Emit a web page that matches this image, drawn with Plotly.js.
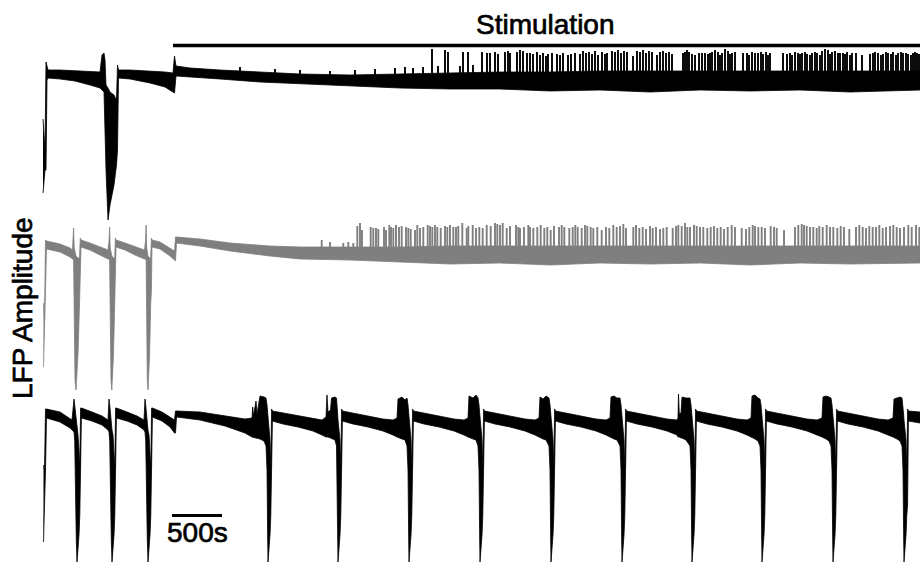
<!DOCTYPE html>
<html>
<head>
<meta charset="utf-8">
<script src="https://cdn.plot.ly/plotly-3.0.1.min.js"></script>
<style>
  html, body { margin: 0; padding: 0; background: #fff; }
  #chart { width: 920px; height: 563px; }
  #chart .annotation-text { stroke: #000; stroke-width: 0.7px; }
</style>
</head>
<body>
<div id="chart"></div>
<script>
// Time in seconds, LFP amplitude in mV. Each channel is drawn as its
// amplitude envelope (upper / lower bound) plus the isolated spikes.

// ---- Channel 1 (black, top) ----
const t1 = [0, 10, 20, 30, 40, 50, 170, 320, 470, 570,
  590, 610, 620, 630, 650, 670, 710, 735, 745, 755,
  870, 1070, 1220, 1300, 1315, 1330,
  1470, 1770, 2170, 2570, 3070, 3570, 4070, 4570, 5070, 5570,
  6070, 6570, 7070, 7570, 8070, 8770];
const hi1 = [-3.9, -6.0, -7.0, 1.8, 1.2, 1.0, 1.0, 0.9, 0.8, 0.8,
  2.5, 2.7, 2.0, -0.5, -0.8, -1.2, -1.5, -2.0, 1.5, 1.0,
  1.0, 0.9, 0.8, 0.7, 2.4, 1.4,
  1.2, 1.0, 0.8, 0.6, 0.5, 0.6, 0.7, 0.8, 0.8, 0.9,
  0.9, 0.9, 0.9, 0.9, 0.9, 0.9];
const lo1 = [-11.3, -10.5, -9.0, -9.0, 0.0, 0.2, 0.1, -0.1, -0.5, -0.8,
  -1.0, -1.2, -3.0, -9.0, -14.0, -12.5, -10.5, -8.5, -7.0, 0.2,
  0.1, -0.3, -0.7, -1.2, -1.3, 0.4,
  0.3, 0.1, -0.2, -0.4, -0.6, -0.8, -0.9, -0.9, -1.1, -1.0,
  -1.2, -1.0, -1.1, -1.0, -1.2, -1.0];

const spikeT1 = [
  1970, 2320, 2570, 2870, 3120, 3320, 3520, 3620, 3700, 3800,
  3890, 3950, 4020, 4050, 4170, 4200, 4250, 4300, 4390, 4440,
  4470, 4520, 4550, 4620, 4650, 4670, 4740, 4770, 4800, 4840,
  4870, 4900, 4940, 4970, 5000, 5030, 5050, 5090, 5140, 5170,
  5200, 5250, 5280, 5320, 5370, 5400, 5430, 5460, 5490, 5520,
  5550, 5590, 5620, 5640, 5690, 5720, 5750, 5780, 5810, 5840,
  5900, 5940, 5970, 6000, 6030, 6060, 6090, 6140, 6170, 6200,
  6230, 6260, 6290, 6400, 6420, 6440, 6460, 6490, 6520, 6560,
  6590, 6620, 6650, 6670, 6690, 6720, 6750, 6770, 6790, 6820,
  6850, 6870, 6890, 6920, 7000, 7040, 7060, 7090, 7120, 7150,
  7180, 7200, 7230, 7250, 7270, 7400, 7440, 7470, 7490, 7520,
  7550, 7570, 7590, 7620, 7640, 7670, 7690, 7720, 7740, 7770,
  7790, 7820, 7850, 7870, 7890, 7920, 7950, 7970, 8000, 8020,
  8040, 8070, 8090, 8130, 8190, 8270, 8300, 8320, 8350, 8380,
  8400, 8430, 8450, 8480, 8500, 8530, 8550, 8580, 8600, 8630,
  8650, 8680, 8700, 8720, 8740, 8760];
const spikeAmp1 = [
  1.3, 1.1, 1.0, 0.9, 1.0, 1.1, 1.2, 1.3, 1.2, 1.3,
  3.1, 1.4, 3.0, 2.8, 1.4, 2.8, 2.8, 1.5, 2.8, 2.7,
  2.7, 2.8, 2.6, 2.8, 2.9, 2.7, 2.8, 3.0, 2.9, 2.7,
  2.7, 2.6, 2.8, 2.5, 2.7, 2.4, 2.6, 2.7, 2.6, 2.5,
  2.7, 2.5, 2.6, 2.7, 2.6, 2.9, 2.7, 2.8, 2.6, 2.9,
  2.5, 2.8, 2.6, 2.7, 2.9, 2.8, 3.0, 2.7, 2.9, 2.8,
  2.4, 2.9, 2.8, 3.0, 2.7, 2.9, 2.8, 2.5, 2.8, 2.9,
  2.7, 2.8, 2.6, 2.7, 2.8, 3.0, 2.8, 2.6, 2.5, 2.7,
  2.7, 2.7, 2.6, 2.7, 2.8, 3.0, 2.8, 2.5, 2.7, 3.1,
  2.9, 2.6, 2.7, 2.8, 2.7, 2.7, 2.5, 2.8, 2.7, 2.7,
  2.8, 2.6, 2.8, 2.5, 2.7, 2.7, 2.6, 2.7, 2.5, 2.8,
  2.7, 2.6, 2.7, 2.8, 2.6, 2.5, 2.7, 2.8, 2.7, 2.5,
  2.9, 3.1, 3.0, 2.6, 2.8, 2.9, 2.7, 2.7, 2.7, 2.6,
  2.8, 2.5, 2.7, 2.7, 2.5, 2.6, 2.7, 2.8, 2.7, 2.5,
  2.6, 2.8, 2.7, 2.6, 2.8, 2.5, 2.7, 2.8, 2.7, 2.7,
  2.6, 2.5, 2.7, 2.8, 2.7, 2.6];

// ---- Channel 2 (grey, middle) ----
const t2 = [5, 15, 25, 35, 170, 270, 295,
  300, 306, 312, 320, 330, 350, 365, 373, 380, 470, 570, 650,
  660, 666, 672, 680, 688, 705, 717, 724, 730, 820, 920, 1015,
  1025, 1031, 1037, 1043, 1050, 1066, 1077, 1084, 1090, 1170, 1270, 1315,
  1325, 1335, 1570, 1870, 2270, 2570, 3070, 3570, 4070, 4570, 5070, 5570, 6070, 6570, 7070, 7570, 8070, 8770];
const hi2 = [-5.1, -6.8, 1.2, 1.1, 0.8, 0.4, 0.2,
  1.2, 2.4, 0.4, -0.2, -0.4, -0.6, -0.6, 1.4, 1.2, 0.9, 0.5, 0.2,
  1.1, 2.5, 0.4, -0.2, -0.4, -0.6, -0.6, 1.4, 1.2, 0.9, 0.5, 0.2,
  1.1, 2.7, 0.4, -0.2, -0.4, -0.6, -0.6, 1.4, 1.2, 1.0, 0.4, 0.1,
  1.5, 1.5, 1.3, 0.9, 0.6, 0.5, 0.5, 0.5, 0.6, 0.6, 0.6, 0.6, 0.6, 0.6, 0.6, 0.6, 0.6, 0.6];
const lo2 = [-11.5, -9.8, -4.8, 0.3, 0.0, -0.5, -0.7,
  -0.7, -0.8, -1.0, -12.8, -13.8, -10.2, -5.2, -3.8, 0.5, 0.2, -0.3, -0.7,
  -0.7, -0.8, -1.0, -12.8, -13.8, -10.2, -5.2, -3.8, 0.5, 0.2, -0.3, -0.7,
  -0.7, -0.8, -1.0, -12.8, -13.8, -10.2, -5.2, -3.8, 0.5, 0.3, -0.4, -0.8,
  -0.9, 0.9, 0.6, 0.1, -0.4, -0.7, -0.8, -1.0, -1.2, -1.1, -1.3, -1.1, -1.2, -1.1, -1.3, -1.1, -1.2, -1.1];

const spikeT2 = [
  2787, 2870, 3003, 3053, 3103, 3143, 3170, 3190, 3277, 3303,
  3330, 3353, 3410, 3430, 3463, 3480, 3503, 3530, 3560, 3587,
  3630, 3653, 3677, 3720, 3743, 3770, 3803, 3847, 3870, 3893,
  3920, 3943, 3977, 4020, 4043, 4070, 4103, 4130, 4153, 4193,
  4237, 4253, 4297, 4330, 4363, 4397, 4437, 4477, 4520, 4543,
  4570, 4597, 4637, 4670, 4730, 4753, 4770, 4810, 4853, 4870,
  4903, 4943, 4977, 5013, 5043, 5077, 5110, 5160, 5187, 5213,
  5263, 5297, 5323, 5347, 5387, 5420, 5443, 5477, 5503, 5543,
  5587, 5630, 5663, 5703, 5737, 5770, 5803, 5830, 5903, 5930,
  5963, 5997, 6030, 6070, 6097, 6130, 6170, 6203, 6237, 6297,
  6330, 6353, 6387, 6420, 6443, 6470, 6510, 6537, 6570, 6603,
  6643, 6677, 6710, 6743, 6777, 6810, 6847, 6887, 6920, 6987,
  7030, 7063, 7097, 7120, 7153, 7187, 7220, 7277, 7310, 7337,
  7410, 7520, 7553, 7587, 7610, 7637, 7670, 7703, 7737, 7763,
  7797, 7837, 7870, 7903, 7943, 7977, 8010, 8063, 8130, 8163,
  8197, 8230, 8263, 8297, 8330, 8363, 8397, 8430, 8470, 8503,
  8537, 8570, 8610, 8653, 8687, 8730, 8763];
const spikeAmp2 = [
  1.2, 1.0, 0.9, 1.0, 0.9, 2.6, 2.9, 2.2, 2.5, 2.4,
  2.4, 2.3, 2.5, 2.2, 2.7, 2.5, 2.4, 2.7, 2.5, 2.6,
  2.5, 2.4, 2.3, 2.2, 2.7, 2.4, 2.5, 2.7, 2.6, 2.5,
  2.7, 2.5, 2.4, 2.6, 2.5, 2.7, 2.5, 2.5, 2.6, 2.9,
  2.4, 2.6, 2.7, 2.4, 2.5, 2.4, 2.7, 2.6, 2.9, 2.8,
  2.7, 2.9, 2.4, 2.6, 2.7, 2.5, 2.4, 2.5, 2.7, 2.5,
  2.4, 2.5, 2.7, 2.4, 2.5, 2.2, 2.6, 2.5, 2.7, 2.5,
  2.4, 2.5, 2.7, 2.5, 2.4, 2.7, 2.6, 2.5, 2.4, 2.5,
  2.2, 2.5, 2.4, 2.7, 2.5, 2.6, 2.8, 2.4, 2.5, 2.7,
  2.4, 2.5, 2.3, 2.6, 2.4, 2.5, 2.3, 2.4, 2.5, 2.4,
  2.6, 2.7, 2.6, 2.9, 2.5, 2.5, 2.7, 2.6, 2.5, 2.5,
  2.4, 2.5, 2.6, 2.4, 2.5, 2.3, 2.5, 2.7, 2.5, 2.4,
  2.3, 2.5, 2.7, 2.6, 2.5, 2.5, 2.4, 2.6, 2.5, 2.4,
  2.2, 2.5, 2.7, 2.8, 2.7, 2.6, 2.5, 2.5, 2.4, 2.6,
  2.5, 2.7, 2.5, 2.5, 2.4, 2.6, 2.5, 2.3, 2.5, 2.7,
  2.5, 2.4, 2.6, 2.5, 2.5, 2.7, 2.4, 2.5, 2.6, 2.7,
  2.5, 2.4, 2.5, 2.7, 2.5, 2.7, 2.5];

// ---- Channel 3 (black, bottom): recurring seizure-like discharges ----
const t3 = [5, 15, 25, 35, 170, 270, 290,
  310, 317, 325, 333, 340, 350, 360, 368, 376, 384, 490, 590, 650,
  660, 667, 675, 683, 690, 700, 710, 718, 726, 734, 840, 940, 1010,
  1020, 1027, 1035, 1043, 1050, 1060, 1070, 1078, 1086, 1094, 1190, 1270, 1315,
  1325, 1335, 1570, 1820, 2020, 2090,
  2097, 2105, 2130, 2140, 2170, 2210, 2230, 2240, 2247, 2250, 2260, 2270, 2278, 2286, 2294, 2400, 2550, 2700, 2790,
  2830, 2840, 2850, 2875, 2885, 2920, 2935, 2943, 2947, 2950, 2960, 2970, 2978, 2986, 2994, 3100, 3250, 3400, 3500,
  3540, 3550, 3590, 3620, 3640, 3650, 3657, 3660, 3670, 3680, 3688, 3696, 3704, 3810, 3960, 4110, 4210,
  4250, 4260, 4300, 4330, 4350, 4360, 4367, 4370, 4380, 4390, 4398, 4406, 4414, 4520, 4670, 4820, 4920,
  4960, 4970, 5000, 5030, 5060, 5070, 5077, 5080, 5090, 5100, 5108, 5116, 5124, 5230, 5380, 5530, 5630,
  5670, 5680, 5710, 5740, 5770, 5780, 5787, 5790, 5800, 5810, 5818, 5826, 5834, 5940, 6090, 6240, 6340,
  6350, 6355, 6363, 6380, 6390, 6430, 6470, 6480, 6487, 6490, 6500, 6510, 6518, 6526, 6534, 6640, 6790, 6940, 7040,
  7080, 7090, 7120, 7150, 7170, 7180, 7187, 7190, 7200, 7210, 7218, 7226, 7234, 7340, 7490, 7640, 7740,
  7790, 7800, 7830, 7860, 7880, 7890, 7897, 7900, 7910, 7920, 7928, 7936, 7944, 8050, 8200, 8350, 8450,
  8500, 8510, 8540, 8570, 8590, 8600, 8607, 8610, 8620, 8630, 8638, 8646, 8654, 8770];
const hi3 = [-4.7, -5.2, 0.9, 0.9, 0.6, 0.0, -0.2,
  1.9, 1.3, 0.3, -0.7, -1.2, -1.7, -3.2, -5.0, 1.0, 1.0, 0.6, 0.2, -0.2,
  1.9, 1.3, 0.3, -0.7, -1.2, -1.7, -3.2, -5.0, 1.0, 1.0, 0.6, 0.2, -0.2,
  1.9, 1.3, 0.3, -0.7, -1.2, -1.7, -3.2, -5.0, 1.0, 1.0, 0.6, 0.1, -0.2,
  0.7, 0.7, 0.6, 0.2, -0.1, 0.0,
  1.1, 0.2, 1.7, 0.4, 2.2, 2.1, 2.0, 1.3, 0.3, -0.2, -1.2, -2.2, -5.0, 0.9, 0.7, 0.5, 0.2, -0.1, -0.2,
  0.1, 2.3, 0.6, 0.8, 2.0, 2.1, 2.0, 1.3, 0.3, -0.2, -1.2, -2.2, -5.0, 0.9, 0.7, 0.5, 0.2, -0.1, -0.2,
  0.0, 1.9, 2.1, 1.8, 2.0, 1.3, 0.3, -0.2, -1.2, -2.2, -5.0, 0.9, 0.7, 0.5, 0.2, -0.1, -0.2,
  0.0, 2.2, 2.0, 2.3, 2.0, 1.3, 0.3, -0.2, -1.2, -2.2, -5.0, 0.9, 0.7, 0.5, 0.2, -0.1, -0.2,
  0.0, 2.1, 1.9, 2.2, 2.0, 1.3, 0.3, -0.2, -1.2, -2.2, -5.0, 0.9, 0.7, 0.5, 0.2, -0.1, -0.2,
  0.0, 2.1, 2.2, 2.0, 2.0, 1.3, 0.3, -0.2, -1.2, -2.2, -5.0, 0.9, 0.7, 0.5, 0.2, -0.1, -0.2,
  0.0, 2.4, 0.4, 0.5, 2.1, 2.0, 2.0, 1.3, 0.3, -0.2, -1.2, -2.2, -5.0, 0.9, 0.7, 0.5, 0.2, -0.1, -0.2,
  0.0, 2.2, 2.3, 2.0, 1.9, 1.3, 0.3, -0.2, -1.2, -2.2, -5.0, 0.9, 0.7, 0.5, 0.2, -0.1, -0.2,
  0.0, 2.1, 2.2, 2.1, 2.0, 1.3, 0.3, -0.2, -1.2, -2.2, -5.0, 0.9, 0.7, 0.5, 0.2, -0.1, -0.2,
  0.0, 1.9, 2.0, 2.1, 2.0, 1.3, 0.3, -0.2, -1.2, -2.2, -5.0, 0.9, 0.7, 0.6];
const lo3 = [-12.4, -10.2, -5.2, 0.0, -0.4, -1.0, -1.2,
  -1.4, -2.2, -5.2, -12.2, -14.4, -13.5, -11.7, -9.7, -8.7, 0.0, -0.3, -0.7, -1.2,
  -1.4, -2.2, -5.2, -12.2, -14.4, -13.5, -11.7, -9.7, -8.7, 0.0, -0.3, -0.7, -1.2,
  -1.4, -2.2, -5.2, -12.2, -14.4, -13.5, -11.7, -9.7, -8.7, 0.1, -0.3, -0.9, -1.5,
  -1.5, 0.1, -0.2, -0.8, -1.5, -1.9,
  -1.9, -1.9, -2.0, -2.0, -2.1, -2.3, -2.8, -5.2, -12.2, -14.4, -13.5, -11.7, -9.7, -8.7, -0.3, -0.6, -0.9, -1.3, -1.7,
  -1.9, -1.9, -1.9, -2.0, -2.0, -2.2, -2.8, -5.2, -12.2, -14.4, -13.5, -11.7, -9.7, -8.7, -0.3, -0.6, -0.9, -1.3, -1.7,
  -1.9, -2.0, -2.1, -2.2, -2.8, -5.2, -12.2, -14.4, -13.5, -11.7, -9.7, -8.7, -0.3, -0.6, -0.9, -1.3, -1.7,
  -1.9, -2.0, -2.1, -2.2, -2.8, -5.2, -12.2, -14.4, -13.5, -11.7, -9.7, -8.7, -0.3, -0.6, -0.9, -1.3, -1.7,
  -1.9, -2.0, -2.1, -2.2, -2.8, -5.2, -12.2, -14.4, -13.5, -11.7, -9.7, -8.7, -0.3, -0.6, -0.9, -1.3, -1.7,
  -1.9, -2.0, -2.1, -2.2, -2.8, -5.2, -12.2, -14.4, -13.5, -11.7, -9.7, -8.7, -0.3, -0.6, -0.9, -1.3, -1.7,
  -1.9, -1.9, -1.9, -2.0, -2.0, -2.2, -2.8, -5.2, -12.2, -14.4, -13.5, -11.7, -9.7, -8.7, -0.3, -0.6, -0.9, -1.3, -1.7,
  -1.9, -2.0, -2.1, -2.3, -2.8, -5.2, -12.2, -14.4, -13.5, -11.7, -9.7, -8.7, -0.3, -0.6, -0.9, -1.3, -1.7,
  -1.9, -2.0, -2.1, -2.3, -2.8, -5.2, -12.2, -14.4, -13.5, -11.7, -9.7, -8.7, -0.3, -0.6, -0.9, -1.3, -1.7,
  -1.9, -2.0, -2.1, -2.3, -2.8, -5.2, -12.2, -14.4, -13.5, -11.7, -9.7, -8.7, -0.3, -0.5];

// Stimulation period and scale bar (seconds)
const stimOnset = 1300;
const recordingEnd = 8800;
const scaleBarStart = 1290;
const scaleBarLength = 500;

const labelFont = { family: 'Liberation Sans, Arial, sans-serif', size: 28, color: '#000' };

// closed envelope polygon: upper bound forward, lower bound backward
function envelope(t, hi, lo, yaxis, color) {
  if (t.length !== hi.length || t.length !== lo.length) {
    console.warn('envelope length mismatch', t.length, hi.length, lo.length);
  }
  return {
    type: 'scatter', mode: 'lines', yaxis: yaxis,
    x: t.concat(t.slice().reverse()),
    y: hi.concat(lo.slice().reverse()),
    fill: 'toself', fillcolor: color,
    line: { color: color, width: 0.8 },
    hoverinfo: 'skip'
  };
}

// vertical spike lines from the baseline to the spike amplitude
function spikeLines(t, amp, yaxis, color) {
  if (t.length !== amp.length) console.warn('spike length mismatch', t.length, amp.length);
  const x = [], y = [];
  t.forEach(function (v, i) { x.push(v, v, null); y.push(0, amp[i], null); });
  return {
    type: 'scatter', mode: 'lines', yaxis: yaxis, x: x, y: y,
    line: { color: color, width: 1.9 }, connectgaps: false, hoverinfo: 'skip'
  };
}

const black = '#000000';
const grey = '#7f7f7f';

const data = [
  envelope(t1, hi1, lo1, 'y', black),
  spikeLines(spikeT1, spikeAmp1, 'y', black),
  envelope(t2, hi2, lo2, 'y2', grey),
  spikeLines(spikeT2, spikeAmp2, 'y2', grey),
  envelope(t3, hi3, lo3, 'y3', black)
];

const hidden = { visible: false, showgrid: false, zeroline: false, fixedrange: true };

const layout = {
  width: 920, height: 563,
  margin: { l: 0, r: 0, t: 0, b: 0, pad: 0 },
  paper_bgcolor: '#fff', plot_bgcolor: '#fff',
  showlegend: false,
  xaxis: Object.assign({ range: [-430, 8770] }, hidden),
  yaxis: Object.assign({ range: [-48.3, 8.0] }, hidden),
  yaxis2: Object.assign({ range: [-31.1, 25.2], overlaying: 'y' }, hidden),
  yaxis3: Object.assign({ range: [-14.5, 41.8], overlaying: 'y' }, hidden),
  shapes: [
    { type: 'line', xref: 'x', yref: 'paper', x0: stimOnset, x1: recordingEnd,
      y0: 0.9192, y1: 0.9192, line: { color: black, width: 3.5 } },
    { type: 'line', xref: 'x', yref: 'paper', x0: scaleBarStart, x1: scaleBarStart + scaleBarLength,
      y0: 0.0844, y1: 0.0844, line: { color: black, width: 3 } }
  ],
  annotations: [
    { text: 'Stimulation', xref: 'paper', yref: 'paper', x: 0.5924, y: 0.9556,
      xanchor: 'center', yanchor: 'middle', showarrow: false, font: labelFont },
    { text: '500s', xref: 'x', yref: 'paper', x: scaleBarStart + scaleBarLength / 2, y: 0.0533,
      xanchor: 'center', yanchor: 'middle', showarrow: false, font: labelFont },
    { text: 'LFP Amplitude', xref: 'paper', yref: 'paper', x: 0.0239, y: 0.4529,
      xanchor: 'center', yanchor: 'middle', textangle: -90, showarrow: false, font: labelFont }
  ]
};

Plotly.newPlot('chart', data, layout, { staticPlot: true, displayModeBar: false });
</script>
</body>
</html>
